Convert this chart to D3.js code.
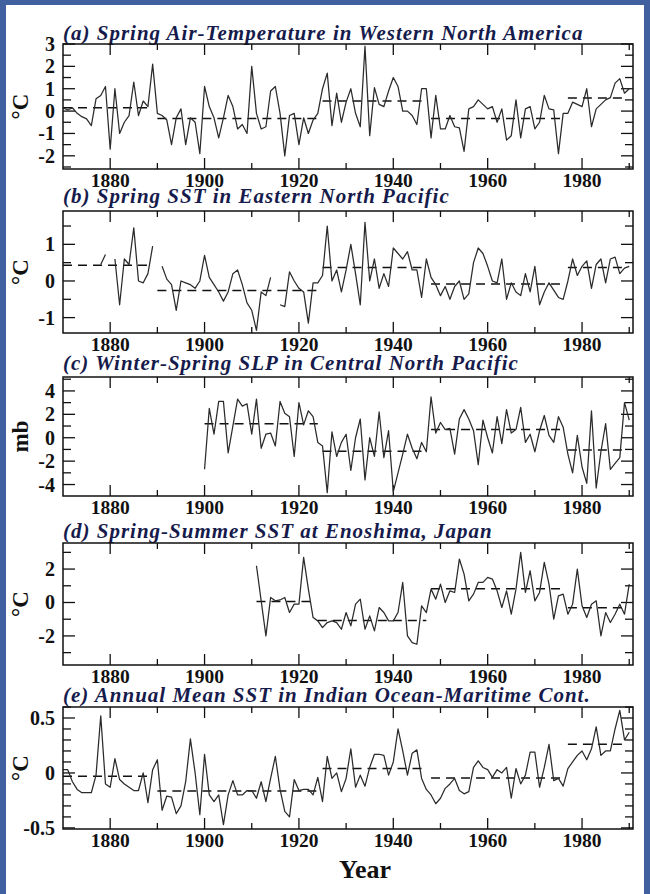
<!DOCTYPE html>
<html>
<head>
<meta charset="utf-8">
<script src="https://cdn.jsdelivr.net/npm/d3@7/dist/d3.min.js"></script>
<style>
  html, body { margin: 0; padding: 0; background: #ffffff; }
  svg { display: block; }
</style>
</head>
<body>
<script>
// Annual anomaly series, one value per year from each series' start year (null = missing year)
const startA = 1870;
const airTempWNA = [
  0.15, 0.05, 0.15, -0.1, -0.25, -0.35, -0.65, 0.55, 0.7, 1.1,
  -1.7, 1.0, -1.0, -0.5, -0.2, 1.3, -0.2, 0.45, 0.2, 2.1,
  -0.1, -0.2, -0.4, -1.5, -0.3, 0.1, -1.5, -0.3, -0.5, -1.9,
  1.1, 0.2, -0.3, -1.2, -0.3, 0.7, 0.2, -0.8, -0.6, -1.0,
  2.0, -0.1, -0.8, -0.7, 0.9, 1.1, -0.1, -2.0, -0.2, -0.1,
  -1.5, -0.3, -1.0, -0.4, -0.1, 1.0, 1.7, -0.65, 0.8, -0.5,
  0.4, 1.0, -0.1, -0.7, 2.9, -1.1, 1.05, 0.3, 0.2, 0.9,
  1.5, 1.1, 0.0, 0.0, -0.2, -0.6, 1.0, 1.0, -1.2, 0.7,
  -0.8, -0.8, -0.2, -0.7, -0.75, -1.8, 0.1, 0.2, 0.5, 0.3,
  0.1, 0.2, -0.5, 0.1, -1.3, -1.1, 0.5, -1.2, 0.1, 0.2,
  -0.8, -0.5, 0.7, 0.1, 0.05, -1.9, -0.1, -0.1, 0.4, 0.3,
  0.2, 1.0, -0.7, 0.1, 0.3, 0.5, 0.6, 1.25, 1.45, 0.8,
  1.0
];

const startB = 1870;
const sstENP = [
  null, null, null, null, null, null, null, null, 0.45, 0.72,
  null, 0.6, -0.65, 0.6, 0.45, 1.45, 0.0, -0.05, 0.2, 0.95,
  null, 0.4, 0.05, -0.1, -0.8, 0.0, -0.05, -0.1, -0.2, 0.0,
  0.7, 0.1, -0.1, -0.3, -0.55, -0.3, 0.2, 0.3, -0.1, -0.6,
  -0.8, -1.35, -0.3, -0.4, 0.1, null, -0.65, -0.7, 0.25, 0.0,
  -0.2, -0.3, -1.15, -0.05, -0.05, 0.15, 1.5, 0.0, 0.3, -0.3,
  0.3, 1.0, 0.2, -0.65, 1.6, 0.0, 0.6, -0.2, 0.2, -0.15,
  0.9, 0.75, 0.6, 0.8, 0.3, 0.3, -0.45, 0.6, 0.1, -0.1,
  -0.4, -0.15, -0.5, -0.15, 0.0, -0.5, -0.35, 0.5, 0.9, 0.75,
  0.4, 0.0, -0.05, 0.6, -0.5, -0.05, -0.3, -0.4, 0.2, -0.3,
  0.4, -0.65, -0.3, -0.05, -0.25, -0.45, -0.5, 0.0, 0.6, 0.15,
  0.4, 0.55, -0.2, 0.45, 0.6, -0.05, 0.6, 0.65, 0.2, 0.35,
  0.4
];

const startC = 1900;
const slpCNP = [
  -2.7, 2.5, 0.3, 3.1, 3.1, -1.3, 1.0, 3.3, 2.7, 2.9,
  0.3, 3.3, -0.9, 0.3, 0.4, -0.7, 3.1, 2.1, 1.8, -1.6,
  3.0, 1.1, 2.3, 1.8, -0.4, -0.7, -4.7, 0.5, -1.6, -0.4,
  0.3, -2.8, 0.0, 1.6, -3.6, 0.0, -1.6, 2.2, -1.7, 0.6,
  -4.6, -3.0, -1.4, 0.3, -0.9, -1.8, -0.4, -1.2, 3.5, 0.4,
  1.3, 0.7, 0.8, -1.4, 1.6, 2.4, 1.6, 0.6, -2.3, 1.5,
  0.0, -1.3, 1.8, -0.5, 2.4, 0.4, 0.7, 2.6, -0.4, 0.3,
  -1.2, 0.6, 1.9, 0.2, -0.4, 1.8, 0.9, -1.4, -3.0, 0.2,
  -2.5, -3.9, 2.3, -4.3, -1.2, 1.2, -2.7, -2.2, -1.7, 3.0,
  1.5
];

const startD = 1911;
const sstEnoshima = [
  2.2, 0.1, -2.0, 0.3, 0.1, 0.15, 0.3, -0.6, -0.1, -0.1,
  2.7, 0.8, -0.9, -1.1, -1.5, -1.2, -1.1, -1.2, -1.6, -0.6,
  -1.4, -0.1, 0.2, -1.6, -0.8, -1.7, -0.3, -0.6, -1.1, -1.1,
  -0.6, 1.2, -2.0, -2.4, -2.5, -0.2, -0.6, 0.8, 0.2, 1.1,
  0.0, 0.7, 0.6, 2.6, 1.7, 0.1, 0.5, 1.2, 1.2, 1.5,
  1.4, 0.7, -0.3, 0.7, -0.7, 0.8, 3.0, 0.6, 1.9, 0.1,
  0.6, 2.4, 1.1, -1.0, 0.4, 0.5, -0.7, -0.1, 2.0, -0.2,
  -0.9, -0.1, 0.1, -2.0, -0.6, -1.2, -0.7, -0.1, -0.7, 1.1
];

const startE = 1870;
const sstIndianOcean = [
  0.03, 0.03, -0.08, -0.15, -0.18, -0.18, -0.18, -0.02, 0.52, -0.1,
  -0.13, 0.13, -0.06, -0.1, -0.13, -0.16, -0.16, 0.0, -0.27, 0.03,
  0.12, -0.34, -0.21, -0.22, -0.37, -0.3, -0.08, 0.31, 0.0, -0.38,
  0.17, -0.2, -0.26, -0.2, -0.47, -0.2, -0.07, -0.2, -0.2, -0.16,
  -0.16, -0.23, -0.08, -0.26, -0.05, 0.15, -0.15, -0.35, -0.4, -0.06,
  -0.16, -0.15, -0.15, -0.2, -0.04, -0.26, 0.15, -0.05, 0.0, -0.17,
  -0.05, 0.22, -0.13, -0.02, -0.12, 0.05, 0.17, 0.17, 0.16, -0.02,
  0.1, 0.4, 0.2, -0.02, 0.18, 0.21, -0.05, -0.15, -0.2, -0.28,
  -0.23, -0.14, -0.1, -0.05, -0.16, -0.19, -0.17, 0.05, 0.11, 0.05,
  0.03, -0.04, 0.03, 0.0, 0.05, -0.23, 0.04, -0.1, -0.02, 0.19,
  0.19, -0.13, 0.05, 0.26, -0.07, -0.05, -0.12, 0.04, 0.1, 0.16,
  0.2, 0.12, 0.22, 0.42, 0.16, 0.2, 0.2, 0.4, 0.57, 0.3,
  0.37
];

// Regime means: [first year, last year, mean]
const regimesA = [[1870, 1889, 0.15], [1890, 1924, -0.33], [1925, 1947, 0.45], [1948, 1976, -0.33], [1977, 1989, 0.58]];
const regimesB = [[1870, 1889, 0.43], [1890, 1924, -0.26], [1925, 1947, 0.37], [1948, 1976, -0.08], [1977, 1989, 0.37]];
const regimesC = [[1900, 1924, 1.2], [1925, 1947, -1.15], [1948, 1976, 0.7], [1977, 1989, -1.05]];
const regimesD = [[1911, 1923, 0.06], [1924, 1947, -1.08], [1948, 1976, 0.82], [1977, 1989, -0.32]];
const regimesE = [[1870, 1889, -0.03], [1890, 1924, -0.165], [1925, 1947, 0.04], [1948, 1976, -0.045], [1977, 1989, 0.26]];

// Axis ticks
const xMajorTicks = [1880, 1900, 1920, 1940, 1960, 1980];
const xMinorTicks = [1890, 1910, 1930, 1950, 1970, 1990];
const yLabelsA = [3, 2, 1, 0, -1, -2];
const yLabelsB = [1, 0, -1];
const yLabelsC = [4, 2, 0, -2, -4];
const yLabelsD = [2, 0, -2];
const yLabelsE = [0.5, 0, -0.5];

const titles = [
  "(a) Spring Air-Temperature in Western North America",
  "(b) Spring SST in Eastern North Pacific",
  "(c) Winter-Spring SLP in Central North Pacific",
  "(d) Spring-Summer SST at Enoshima, Japan",
  "(e) Annual Mean SST in Indian Ocean-Maritime Cont."
];
const unitLabels = ["°C", "°C", "mb", "°C", "°C"];

// Panel frames (top, bottom) and title baselines in page pixels
const panels = [
  { title: titles[0], unit: unitLabels[0], start: startA, values: airTempWNA, regimes: regimesA,
    domain: [-2.59, 3.0], labels: yLabelsA, minorStep: 0.5, top: 44, bottom: 169, titleY: 40 },
  { title: titles[1], unit: unitLabels[1], start: startB, values: sstENP, regimes: regimesB,
    domain: [-1.42, 1.91], labels: yLabelsB, minorStep: 0.5, top: 211, bottom: 333, titleY: 203 },
  { title: titles[2], unit: unitLabels[2], start: startC, values: slpCNP, regimes: regimesC,
    domain: [-4.98, 5.19], labels: yLabelsC, minorStep: 1, top: 377, bottom: 496, titleY: 370 },
  { title: titles[3], unit: unitLabels[3], start: startD, values: sstEnoshima, regimes: regimesD,
    domain: [-3.74, 3.56], labels: yLabelsD, minorStep: 1, top: 543, bottom: 665, titleY: 538 },
  { title: titles[4], unit: unitLabels[4], start: startE, values: sstIndianOcean, regimes: regimesE,
    domain: [-0.51, 0.6], labels: yLabelsE, minorStep: 0.1, top: 707, bottom: 829, titleY: 702 }
];

const W = 650, H = 894;
const frameColor = "#41609f";
const titleColor = "#161b4c";
const inkColor = "#111111";
const serif = "'Liberation Serif', 'Times New Roman', serif";

const svg = d3.select("body").append("svg").attr("width", W).attr("height", H);

// Page background with a blue frame on the left, top and right
svg.append("rect").attr("width", W).attr("height", H).attr("fill", frameColor);
svg.append("rect").attr("x", 6).attr("y", 5).attr("width", W - 12).attr("height", H - 5).attr("fill", "#ffffff");

const boxLeft = 63, boxRight = 633;
const x = d3.scaleLinear().domain([1870, 1990.8]).range([boxLeft, boxRight]);

function tick(g, x1, y1, x2, y2) {
  g.append("line").attr("x1", x1).attr("y1", y1).attr("x2", x2).attr("y2", y2)
    .attr("stroke", inkColor).attr("stroke-width", 1.3);
}

panels.forEach(p => {
  const top = p.top, bottom = p.bottom;
  const y = d3.scaleLinear().domain(p.domain).range([bottom, top]);
  const g = svg.append("g");

  // Title
  g.append("text")
    .attr("x", boxLeft).attr("y", p.titleY)
    .attr("font-family", serif).attr("font-size", 21)
    .attr("font-weight", "bold").attr("font-style", "italic")
    .attr("letter-spacing", 1)
    .attr("fill", titleColor)
    .text(p.title);

  // y ticks on both sides (pointing inward); labelled values get longer ticks
  const k0 = Math.ceil(p.domain[0] / p.minorStep - 1e-6);
  const k1 = Math.floor(p.domain[1] / p.minorStep + 1e-6);
  const yTicks = d3.range(k0, k1 + 1).map(k => +(k * p.minorStep).toFixed(4));
  yTicks.forEach(v => {
    const yy = y(v);
    const len = p.labels.some(l => Math.abs(l - v) < 1e-6) ? 12 : 8;
    tick(g, boxLeft, yy, boxLeft + len, yy);
    tick(g, boxRight, yy, boxRight - len, yy);
  });

  // x ticks top and bottom
  xMajorTicks.forEach(t => {
    tick(g, x(t), bottom, x(t), bottom - 11);
    tick(g, x(t), top, x(t), top + 11);
  });
  xMinorTicks.forEach(t => {
    tick(g, x(t), bottom, x(t), bottom - 6);
    tick(g, x(t), top, x(t), top + 6);
  });

  // y tick labels
  p.labels.forEach(v => {
    g.append("text")
      .attr("x", boxLeft - 8).attr("y", y(v)).attr("dy", "0.35em")
      .attr("text-anchor", "end")
      .attr("font-family", serif).attr("font-size", 20).attr("font-weight", "bold")
      .attr("fill", inkColor)
      .text(String(v));
  });

  // x tick labels
  xMajorTicks.forEach(t => {
    g.append("text")
      .attr("x", x(t)).attr("y", bottom + 18)
      .attr("text-anchor", "middle")
      .attr("font-family", serif).attr("font-size", 19.5).attr("font-weight", "bold")
      .attr("fill", inkColor)
      .text(t);
  });

  // unit label
  g.append("text")
    .attr("transform", `translate(28,${(top + bottom) / 2}) rotate(-90)`)
    .attr("text-anchor", "middle")
    .attr("font-family", serif).attr("font-size", 23).attr("font-weight", "bold")
    .attr("fill", inkColor)
    .text(p.unit);

  // regime means (dashed)
  p.regimes.forEach(r => {
    g.append("line")
      .attr("x1", x(r[0])).attr("x2", x(r[1]))
      .attr("y1", y(r[2])).attr("y2", y(r[2]))
      .attr("stroke", inkColor).attr("stroke-width", 1.5)
      .attr("stroke-dasharray", "9,6");
  });

  // data line
  const pts = p.values.map((v, j) => ({ year: p.start + j, v }));
  const line = d3.line()
    .defined(d => d.v !== null)
    .x(d => x(d.year))
    .y(d => y(d.v));
  g.append("path")
    .datum(pts)
    .attr("d", line)
    .attr("fill", "none")
    .attr("stroke", "#2b2b2b")
    .attr("stroke-width", 1.25)
    .attr("stroke-linejoin", "round");

  // frame
  g.append("rect")
    .attr("x", boxLeft).attr("y", top).attr("width", boxRight - boxLeft).attr("height", bottom - top)
    .attr("fill", "none").attr("stroke", inkColor).attr("stroke-width", 1.5);
});

// x-axis title
svg.append("text")
  .attr("x", 365).attr("y", 878)
  .attr("text-anchor", "middle")
  .attr("font-family", serif).attr("font-size", 26).attr("font-weight", "bold")
  .attr("fill", inkColor)
  .text("Year");
</script>
</body>
</html>
